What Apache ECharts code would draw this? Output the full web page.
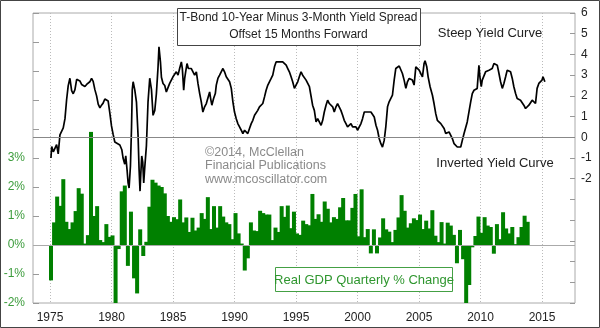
<!DOCTYPE html>
<html><head><meta charset="utf-8">
<script src="https://cdn.jsdelivr.net/npm/echarts@6/dist/echarts.min.js"></script>
<style>html,body{margin:0;padding:0;background:#fff}#c{width:600px;height:328px}</style>
</head><body><div id="c"></div>
<script>
// ---- data ----
const yearTicks = [1975, 1980, 1985, 1990, 1995, 2000, 2005, 2010, 2015];
const gdpStartYear = 1975; // first bar = 1975 Q1
const gdpQuarterly = [
  -1.22, 0.78, 1.67, 1.35,   // 1975
  2.27, 0.80, 0.55, 0.78,    // 1976
  1.17, 1.96, 1.77, 0.05,    // 1977
  0.34, 3.90, 1.00, 1.34,    // 1978
  0.17, 0.10, 0.72, 0.28,    // 1979
  0.33, -2.06, -0.14, 1.85,  // 1980
  2.05, -0.72, 1.15, -1.15,  // 1981
  -1.67, 0.54, -0.38, 0.11,  // 1982
  1.32, 2.25, 2.15, 2.05,    // 1983
  2.00, 1.78, 1.00, 0.80,    // 1984
  0.96, 0.89, 1.57, 0.78,    // 1985
  0.95, 0.45, 0.94, 0.50,    // 1986
  0.60, 1.10, 0.90, 1.65,    // 1987
  0.55, 1.34, 0.60, 1.34,    // 1988
  0.98, 0.78, 0.72, 0.20,    // 1989
  1.10, 0.40, 0.05, -0.88,   // 1990
  -0.46, 0.78, 0.50, 0.48,   // 1991
  1.18, 1.10, 1.05, 1.05,    // 1992
  0.17, 0.60, 0.45, 1.34,    // 1993
  0.97, 1.36, 0.58, 1.15,    // 1994
  0.40, 0.35, 0.84, 0.72,    // 1995
  0.68, 1.76, 0.90, 1.06,    // 1996
  0.80, 1.50, 1.25, 0.78,    // 1997
  0.96, 0.90, 1.30, 1.62,    // 1998
  0.85, 0.85, 1.28, 1.76,    // 1999
  0.30, 1.92, 0.27, 0.55,    // 2000
  -0.29, 0.54, -0.29, 0.26,  // 2001
  0.92, 0.54, 0.46, 0.10,    // 2002
  0.52, 0.95, 1.72, 1.18,    // 2003
  0.60, 0.75, 0.92, 0.86,    // 2004
  1.05, 0.55, 0.84, 0.57,    // 2005
  1.20, 0.32, 0.10, 0.79,    // 2006
  0.05, 0.77, 0.67, 0.35,    // 2007
  -0.63, 0.52, -0.49, -2.12, // 2008
  -1.38, -0.08, 0.31, 0.98,  // 2009
  0.42, 0.96, 0.67, 0.62,    // 2010
  -0.30, 0.72, 0.20, 1.13,   // 2011
  0.57, 0.40, 0.62, 0.03,    // 2012
  0.27, 0.62, 1.01, 0.80     // 2013
];
const spreadYears = [
  1975.08,1975.14,1975.27,1975.41,1975.54,1975.67,1975.81,1975.95,1976.08,1976.22,1976.35,1976.48,1976.62,1976.76,1976.89,
  1977.03,1977.17,1977.30,1977.43,1977.57,1977.70,1977.84,1977.98,1978.11,1978.24,1978.38,1978.51,1978.65,1978.79,1978.92,
  1979.06,1979.19,1979.32,1979.46,1979.60,1979.73,1979.87,1980.00,1980.13,1980.27,1980.43,1980.68,1980.84,1980.94,
  1981.08,1981.16,1981.27,1981.35,1981.43,1981.54,1981.63,1981.69,1981.76,1981.89,1982.03,1982.16,1982.24,1982.32,1982.38,
  1982.46,1982.54,1982.62,1982.70,1982.84,1982.97,1983.11,1983.25,1983.38,1983.52,1983.65,1983.78,1983.86,1983.98,
  1984.06,1984.19,1984.33,1984.46,1984.59,1984.73,
  1985.00,1985.14,1985.27,1985.41,1985.54,1985.68,1985.76,1985.87,1985.95,1986.03,1986.14,1986.25,1986.35,1986.49,1986.62,
  1986.76,1986.90,1987.03,1987.17,1987.30,1987.43,1987.57,1987.71,1987.84,1987.98,1988.06,1988.16,1988.30,1988.44,1988.52,
  1988.65,1988.79,1988.92,1989.06,1989.19,1989.33,1989.46,1989.60,1989.74,1989.87,1990.00,1990.14,1990.27,1990.41,1990.55,
  1990.68,1990.82,1990.95,1991.08,1991.22,1991.36,1991.49,1991.63,1991.76,1991.89,1992.03,1992.17,1992.30,1992.44,1992.57,
  1992.71,1992.84,1992.98,1993.11,1993.25,1993.38,1993.52,1993.65,1993.79,1993.92,1994.06,1994.20,1994.33,1994.46,1994.60,
  1994.73,1994.87,1995.00,1995.14,1995.27,1995.41,1995.54,1995.68,1995.82,1995.95,
  1996.09,1996.35,1996.49,1996.63,1996.76,1996.90,1997.04,1997.17,1997.30,1997.44,1997.57,1997.71,1997.85,1997.98,1998.11,
  1998.25,1998.38,1998.52,1998.65,1998.79,1998.92,1999.06,1999.19,1999.33,1999.47,1999.60,1999.74,1999.87,2000.00,2000.14,
  2000.28,2000.41,2000.55,2000.69,2000.82,2000.95,2001.09,2001.22,2001.36,2001.50,2001.63,2001.76,2001.90,2002.03,2002.17,
  2002.30,2002.44,2002.57,2002.71,2002.84,2002.98,2003.11,2003.25,2003.39,2003.52,2003.65,2003.79,2003.93,2004.06,2004.20,
  2004.33,2004.46,2004.60,2004.74,2004.87,2005.01,2005.14,2005.28,2005.41,2005.49,2005.63,2005.74,2005.90,2006.09,2006.22,
  2006.36,2006.49,2006.63,
  2006.77,2006.90,2007.04,2007.17,2007.30,2007.44,2007.58,2007.71,2007.85,2007.98,2008.11,2008.25,2008.39,2008.52,2008.66,
  2008.79,2008.92,2009.06,2009.20,2009.33,2009.47,2009.60,2009.73,2009.87,2009.95,2010.06,2010.14,2010.28,2010.41,2010.55,
  2010.69,2010.82,2010.95,2011.09,2011.22,2011.36,2011.50,2011.63,2011.77,2011.90,2012.04,2012.17,2012.31,2012.44,2012.58,
  2012.71,2012.85,2012.98,2013.12,2013.25,2013.39,2013.52,2013.66,2013.79,2013.93,2014.06,2014.20,2014.33,2014.47,2014.60,
  2014.74,2014.87,2015.00,2015.08,2015.23
];
const spreadValues = [
  -1.0,-0.45,-0.7,-0.73,-0.35,-0.8,0.12,0.2,0.45,0.9,1.8,2.48,2.85,2.25,2.1,
  2.3,2.8,2.88,2.72,2.55,2.6,2.45,2.55,2.5,2.68,2.84,2.7,2.3,2.0,1.6,
  1.42,1.55,1.65,1.85,1.9,1.75,1.15,0.55,0.15,-0.23,-0.3,-0.37,-0.6,-1.0,
  -1.3,-0.9,-1.6,-2.2,-2.45,-1.4,0.5,2.3,2.68,2.3,1.7,0.1,-1.5,-2.6,-1.8,
  -0.9,-1.2,-2.2,-1.5,-0.4,1.7,2.85,2.3,1.06,1.3,2.1,3.34,4.37,3.64,
  2.9,2.6,2.5,2.19,2.1,2.6,
  2.92,2.84,3.16,3.0,3.32,3.64,3.32,2.27,2.84,3.16,3.56,3.32,3.4,3.32,3.24,
  3.0,3.16,2.6,2.11,1.71,1.22,1.47,1.63,1.71,2.19,1.87,1.55,1.87,2.11,2.52,
  2.84,3.0,3.16,3.32,3.16,2.92,2.84,2.68,2.36,1.71,1.22,0.9,0.66,0.5,0.34,
  0.18,0.34,0.26,0.18,0.42,0.66,0.82,1.06,0.98,1.3,1.47,1.55,1.63,1.95,2.27,
  2.52,2.68,2.84,3.0,3.4,3.64,3.72,3.64,3.72,3.64,3.72,3.48,3.32,3.16,2.92,
  2.68,2.36,2.52,2.68,2.92,3.16,3.0,3.0,2.76,2.68,
  2.44,1.55,1.3,0.74,0.9,0.98,0.58,0.82,1.22,1.55,1.79,1.63,1.71,1.47,1.22,
  1.47,1.63,1.55,1.3,1.06,0.82,0.66,0.5,0.58,0.66,0.5,0.42,0.5,0.34,0.42,
  0.66,0.9,1.22,1.3,1.22,1.14,1.22,1.3,0.98,0.58,0.34,-0.06,-0.31,-0.47,-0.15,
  0.5,1.47,1.71,1.79,2.03,2.76,3.32,3.4,3.44,3.4,3.08,2.76,2.36,2.68,2.84,
  2.76,2.76,2.52,3.4,3.32,3.24,3.08,2.92,3.56,3.69,3.4,2.92,2.44,2.03,1.63,
  1.14,0.82,0.74,
  0.66,0.58,0.42,0.18,0.26,0.26,0.18,-0.06,-0.31,-0.39,-0.47,-0.39,-0.47,-0.15,0.18,
  0.26,0.74,0.66,1.71,2.11,2.27,2.19,2.36,3.48,2.92,2.44,2.76,2.68,3.16,3.24,
  3.24,3.16,3.32,3.56,3.64,3.48,3.08,2.68,2.36,2.6,2.92,3.24,3.32,3.16,2.84,
  2.44,2.11,1.87,1.95,1.79,1.71,1.55,1.39,1.47,1.55,1.63,1.79,1.71,1.63,2.36,
  2.6,2.68,2.76,2.92,2.68
];
const gdpLabelMax = 3;      // left axis labels shown from -2% to 3%
const spreadLabelMin = -2;  // right axis labels shown from -2 to 6

// ---- chart ----
const FONT = '"Liberation Sans", Arial, sans-serif';
const chart = echarts.init(document.getElementById('c'), null, {renderer: 'canvas'});
const barData = gdpQuarterly.map((v, i) => [gdpStartYear + i / 4 + 1 / 12, v]);
const lineData = spreadYears.map((y, i) => [y, spreadValues[i]]);
const zeroLine = (color) => ({
  silent: true, symbol: ['none', 'none'], label: {show: false},
  lineStyle: {type: 'solid', color: color, width: 1},
  data: [{yAxis: 0}], animation: false
});

chart.setOption({
  animation: false,
  backgroundColor: '#fff',
  textStyle: {fontFamily: FONT},
  grid: {left: 33, right: 25, top: 13, bottom: 25, show: true, borderColor: '#aaa', borderWidth: 1, backgroundColor: 'transparent'},
  xAxis: {
    type: 'value', min: 1973.62, max: 2017.68,
    axisLine: {show: false},
    axisTick: {show: false, customValues: yearTicks},
    axisLabel: {customValues: yearTicks, formatter: v => String(v), color: '#222', fontSize: 12, margin: 9, fontFamily: FONT},
    splitLine: {show: true, lineStyle: {color: '#bbb', type: [1, 2], width: 1}}
  },
  yAxis: [
    {
      type: 'value', position: 'left', min: -2, max: 8, interval: 1,
      axisLine: {show: false},
      axisTick: {show: true, inside: true, length: 6, lineStyle: {color: '#999'}},
      axisLabel: {formatter: v => (v <= gdpLabelMax ? v + '%' : ''), color: '#3c9c3c', fontSize: 12, margin: 8, showMinLabel: true, showMaxLabel: true, fontFamily: FONT},
      splitLine: {show: false}
    },
    {
      type: 'value', position: 'right', min: -8, max: 6, interval: 1,
      axisLine: {show: false},
      axisTick: {show: true, inside: true, length: 5, lineStyle: {color: '#999'}},
      axisLabel: {formatter: v => (v >= spreadLabelMin ? String(v) : ''), color: '#222', fontSize: 12, margin: 6, showMinLabel: true, showMaxLabel: true, fontFamily: FONT},
      splitLine: {show: false}
    }
  ],
  series: [
    {
      type: 'bar', xAxisIndex: 0, yAxisIndex: 0, data: barData,
      barWidth: 4, barMinWidth: 4, itemStyle: {color: '#008000'}, z: 2,
      markLine: zeroLine('#aaa')
    },
    {
      type: 'line', xAxisIndex: 0, yAxisIndex: 1, data: lineData,
      symbol: 'none', lineStyle: {color: '#000', width: 1.7}, z: 4,
      markLine: zeroLine('#888')
    }
  ],
  graphic: [
    {type: 'rect', shape: {x: 0.5, y: 0.5, width: 599, height: 327}, style: {fill: 'none', stroke: '#444', lineWidth: 1}, silent: true, z: 100},
    {type: 'rect', shape: {x: 177.5, y: 8.5, width: 243, height: 37}, style: {fill: '#fff', stroke: '#444', lineWidth: 1}, z: 50},
    {type: 'text', x: 298.5, y: 18, style: {text: 'T-Bond 10-Year Minus 3-Month Yield Spread', fill: '#222', font: '12px ' + FONT, textAlign: 'center', textVerticalAlign: 'middle'}, z: 51},
    {type: 'text', x: 298.5, y: 35, style: {text: 'Offset 15 Months Forward', fill: '#222', font: '12px ' + FONT, textAlign: 'center', textVerticalAlign: 'middle'}, z: 51},
    {type: 'text', x: 490, y: 33, style: {text: 'Steep Yield Curve', fill: '#222', font: '13px ' + FONT, textAlign: 'center', textVerticalAlign: 'middle'}, z: 51},
    {type: 'text', x: 495, y: 163, style: {text: 'Inverted Yield Curve', fill: '#222', font: '13px ' + FONT, textAlign: 'center', textVerticalAlign: 'middle'}, z: 51},
    {type: 'text', x: 205, y: 152.5, style: {text: '\u00a92014, McClellan', fill: '#8a8a8a', font: '12.5px ' + FONT, textAlign: 'left', textVerticalAlign: 'middle'}, z: 1},
    {type: 'text', x: 205, y: 166, style: {text: 'Financial Publications', fill: '#8a8a8a', font: '12.5px ' + FONT, textAlign: 'left', textVerticalAlign: 'middle'}, z: 1},
    {type: 'text', x: 205, y: 179.5, style: {text: 'www.mcoscillator.com', fill: '#8a8a8a', font: '12.5px ' + FONT, textAlign: 'left', textVerticalAlign: 'middle'}, z: 1},
    {type: 'rect', shape: {x: 275.5, y: 267.5, width: 177, height: 24}, style: {fill: '#fff', stroke: '#44a044', lineWidth: 1}, z: 50},
    {type: 'text', x: 364, y: 280, style: {text: 'Real GDP Quarterly % Change', fill: '#2f962f', font: '13px ' + FONT, textAlign: 'center', textVerticalAlign: 'middle'}, z: 51}
  ]
});
</script>
</body></html>
